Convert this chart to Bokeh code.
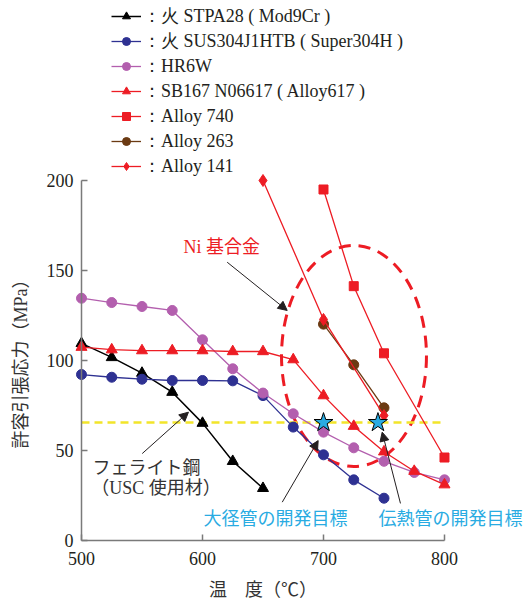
import math
from bokeh.plotting import figure
from bokeh.models import Range1d, Legend, LegendItem, Arrow, NormalHead, Label, LinearAxis, FixedTicker
from bokeh.embed import file_html
from bokeh.resources import INLINE

# ---------------- data ----------------
temps_stpa28 = [500, 525, 550, 575, 600, 625, 650]
stpa28 = [109.5, 101.7, 93.0, 82.4, 65.2, 44.0, 29.0]

temps_sus304 = [500, 525, 550, 575, 600, 625, 650, 675, 700, 725, 750]
sus304 = [92.2, 90.7, 89.6, 88.9, 88.9, 88.7, 80.5, 63.0, 47.6, 33.7, 23.5]

temps_hr6w = [500, 525, 550, 575, 600, 625, 650, 675, 700, 725, 750, 775, 800]
hr6w = [134.6, 132.2, 130.0, 127.8, 111.5, 95.4, 81.9, 70.4, 60.2, 51.5, 44.0, 37.8, 33.7]

temps_sb167 = [500, 525, 550, 575, 600, 625, 650, 675, 700, 725, 750, 775, 800]
sb167 = [107.4, 106.0, 105.5, 105.5, 105.5, 105.0, 105.0, 100.5, 80.5, 63.5, 49.3, 38.5, 31.0]

temps_a740 = [700, 725, 750, 800]
a740 = [195.0, 141.3, 104.0, 46.1]

temps_a263 = [700, 725, 750]
a263 = [120.2, 97.6, 73.7]

temps_a141 = [650, 700, 750]
a141 = [200.0, 122.8, 69.4]

target_stress = 65.5
target_span = [500, 800]
target_temps = [700, 745]

x_ticks = [500, 600, 700, 800]
y_ticks = [0, 50, 100, 150, 200]

legend_labels = [
    "：火 STPA28 ( Mod9Cr )",
    "：火 SUS304J1HTB ( Super304H )",
    "：HR6W",
    "：SB167 N06617 ( Alloy617 )",
    "：Alloy 740",
    "：Alloy 263",
    "：Alloy 141",
]

x_title = "温　度（℃）"
y_title = "許容引張応力（MPa）"

# ---------------- style ----------------
SERIF = "Liberation Serif, Noto Sans CJK JP"
RED = "#ed1c24"
BLUE = "#2e3192"
PURPLE = "#b35fae"
BROWN = "#6b3a12"
CYAN = "#29abe2"
YELLOW = "#f2e52a"
INK = "#231f20"
GRAY = "#7a7a7a"

# the plotting frame covers the whole canvas; axes are pinned at x=500 / y=0
p = figure(width=529, height=599,
           x_range=Range1d(433.06, 870.25), y_range=Range1d(-32.78, 300.0),
           x_axis_location=None, y_axis_location=None,
           output_backend="svg", toolbar_location=None,
           min_border_left=0, min_border_right=0, min_border_top=0, min_border_bottom=0)
p.xgrid.visible = False
p.ygrid.visible = False
p.outline_line_color = None
p.background_fill_color = "white"

xaxis = LinearAxis(fixed_location=0, bounds=(500, 800), ticker=FixedTicker(ticks=x_ticks))
yaxis = LinearAxis(fixed_location=500, bounds=(0, 200), ticker=FixedTicker(ticks=y_ticks))
p.add_layout(xaxis, "below")
p.add_layout(yaxis, "left")
for ax in (xaxis, yaxis):
    ax.axis_line_color = GRAY
    ax.axis_line_width = 1.5
    ax.major_tick_line_color = GRAY
    ax.major_tick_line_width = 1.5
    ax.major_tick_in = 6
    ax.major_tick_out = 0
    ax.minor_tick_line_color = None
    ax.major_label_text_font = "Liberation Serif"
    ax.major_label_text_font_size = "18px"
    ax.major_label_text_color = INK
xaxis.major_label_standoff = 12
yaxis.major_label_standoff = 8

# reference ellipse and target line
p.ellipse(x=725.2, y=102.5, width=119.8, height=122.8, fill_color=None,
          line_color=RED, line_width=3, line_dash="12 8")
p.line(target_span, [target_stress] * 2, line_color=YELLOW, line_width=2.5, line_dash="8 5")

series = [
    (temps_stpa28, stpa28, "black", "black", "triangle", 11, 1.5),
    (temps_sus304, sus304, BLUE, BLUE, "circle", 10, 1.3),
    (temps_hr6w, hr6w, PURPLE, PURPLE, "circle", 10, 1.3),
    (temps_sb167, sb167, RED, RED, "triangle", 11, 1.3),
    (temps_a740, a740, RED, RED, "square", 9, 1.3),
    (temps_a263, a263, BROWN, BROWN, "circle", 10, 1.3),
    (temps_a141, a141, RED, RED, "diamond", 12, 1.3),
]
items = []
for (xs, ys, lc, fc, mk, sz, lw), lab in zip(series, legend_labels):
    r1 = p.line(xs, ys, line_color=lc, line_width=lw)
    r2 = p.scatter(xs, ys, marker=mk, size=sz, fill_color=fc, line_color=fc)
    items.append(LegendItem(label=lab, renderers=[r1, r2]))

p.scatter(target_temps, [target_stress] * 2, marker="star", size=20,
          fill_color=CYAN, line_color="black", line_width=1)

legend = Legend(items=items, location=(111, 421), orientation="vertical",
                glyph_width=30, glyph_height=20, label_height=20, spacing=1,
                padding=0, margin=0, label_standoff=2,
                label_text_font="Liberation Serif", label_text_font_size="18px",
                label_text_color=INK,
                background_fill_alpha=0, border_line_color=None)
p.add_layout(legend, "center")

# arrows
def arrow(x0, y0, x1, y1):
    p.add_layout(Arrow(end=NormalHead(size=9, fill_color=INK, line_color=INK, line_width=1),
                       x_start=x0, y_start=y0, x_end=x1, y_end=y1,
                       line_color=INK, line_width=1))

arrow(620.4, 154.6, 670.0, 127.8)
arrow(550.2, 48.3, 588.4, 71.3)
arrow(665.9, 21.3, 695.6, 55.5)
arrow(763.6, 20.6, 748.5, 60.2)

def label(x, y, text, color, align="left", angle=0.0):
    p.add_layout(Label(x=x, y=y, text=text, text_color=color, text_font=SERIF,
                       text_font_size="18px", text_align=align, text_baseline="middle",
                       angle=angle))

label(584.3, 163.0, "Ni 基合金", RED)
label(509.1, 40.0, "フェライト鋼", "#333333")
label(508.0, 28.9, "（USC 使用材）", "#333333")
label(600.8, 12.2, "大径管の開発目標", CYAN)
label(745.5, 12.2, "伝熱管の開発目標", CYAN)

# axis titles
label(650.0, -27.5, x_title, "#333333", align="center")
label(449.6, 100.6, y_title, "#333333", align="center", angle=math.pi / 2)

open("out.html", "w").write(file_html(p, INLINE))
